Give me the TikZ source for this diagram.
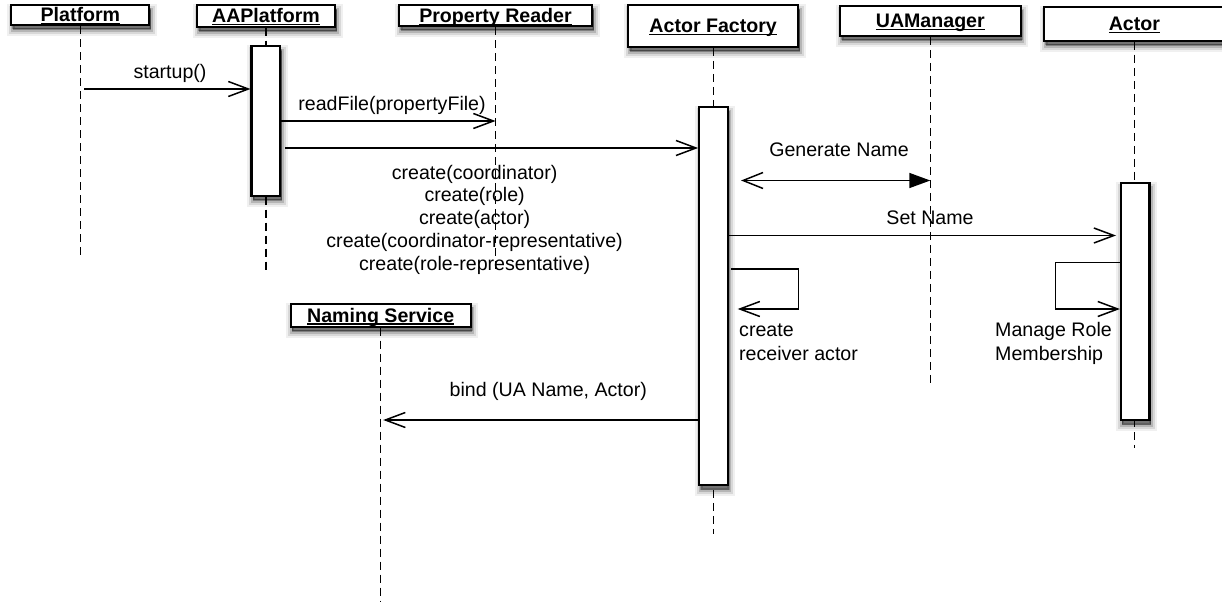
\documentclass[tikz,border=0pt]{standalone}
\usepackage{fontspec}
\setmainfont{Liberation Sans}
\usetikzlibrary{arrows.meta,shadows}

% underlined object name, rule crossing the descenders
\newcommand\ulabel[1]{\setbox0\hbox{#1}\rlap{\rule[-2.4pt]{\wd0}{1.3pt}}\box0}

\tikzset{
  softshadow/.style={
    general shadow={shadow xshift=1.5pt,shadow yshift=-5pt,fill=black,draw=black,line width=12pt,opacity=0.06},
    general shadow={shadow xshift=1.5pt,shadow yshift=-5pt,fill=black,draw=black,line width=8pt,opacity=0.10},
    general shadow={shadow xshift=1.5pt,shadow yshift=-5pt,fill=black,draw=black,line width=4pt,opacity=0.16},
    general shadow={shadow xshift=1.5pt,shadow yshift=-4pt,fill=black,draw=black,line width=1pt,opacity=0.25}},
  headbox/.style={draw=black,line width=2.1pt,fill=white,inner sep=0pt,softshadow,
    font=\bfseries\fontsize{19.6}{22}\selectfont,text height=15pt,text depth=1pt},
  actbox/.style={draw=black,line width=2.1pt,fill=white,inner sep=0pt,softshadow,minimum width=28.5pt},
  lifeline/.style={line width=1.4pt,dash pattern=on 8pt off 5pt},
  msg/.style={line width=1.5pt,-{Straight Barb[length=20pt,width=15pt]}},
  lbl/.style={font=\fontsize{19.6}{22.9}\selectfont,inner sep=0pt},
  sidelbl/.style={font=\fontsize{19.6}{24}\selectfont,inner sep=0pt,anchor=base west},
}

\begin{document}
\begin{tikzpicture}[x=1pt,y=-1pt]
\useasboundingbox (0,0) rectangle (1222,602);

% object heads
\node[headbox,minimum width=138pt,minimum height=20pt]   (pf)  at (80.4,15)    {\ulabel{Platform}};
\node[headbox,minimum width=138pt,minimum height=21.5pt] (aap) at (266,15.9)   {\ulabel{AAPlatform}};
\node[headbox,minimum width=193pt,minimum height=21pt]   (pr)  at (495.5,15.5) {\ulabel{Property Reader}};
\node[headbox,minimum width=170.4pt,minimum height=41.7pt] (af) at (713.2,25.9) {\ulabel{Actor Factory}};
\node[headbox,minimum width=180.6pt,minimum height=29.7pt] (uam) at (930.3,20.9) {\ulabel{UAManager}};
\node[headbox,minimum width=180.3pt,minimum height=34pt] (act) at (1134.4,23.7) {\ulabel{Actor}};
\node[headbox,minimum width=180pt,minimum height=22.7pt] (ns)  at (380.7,315.3) {\ulabel{Naming Service}};

% lifeline ends
\coordinate (pfEnd)  at (80.4,257);
\coordinate (aapEnd) at (266,274);
\coordinate (prEnd)  at (495.5,273);
\coordinate (afEnd)  at (713.2,534.3);
\coordinate (uamEnd) at (930.3,383.3);
\coordinate (actEnd) at (1134.4,448.3);
\coordinate (nsEnd)  at (380.7,602);

\draw[lifeline] (pf.south)  -- (pfEnd);
\draw[lifeline] (aap.south) -- (aapEnd);
\draw[lifeline] (pr.south)  -- (prEnd);
\draw[lifeline] (af.south)  -- (afEnd);
\draw[lifeline] (uam.south) -- (uamEnd);
\draw[lifeline] (act.south) -- (actEnd);
\draw[lifeline] (ns.south)  -- (nsEnd);

% activations
\node[actbox,minimum height=149.7pt] (aapA) at (265.75,120.85) {};
\node[actbox,minimum height=377.7pt] (afA)  at (713.4,296.15)  {};
\node[actbox,minimum height=237.3pt] (actA) at (1135.2,301.35) {};

% startup()
\coordinate (y1) at (84,89);
\draw[msg] (y1) -- (aapA.west |- y1);
\node[lbl,anchor=base] (t1) at (170,78) {startup()};

% readFile(propertyFile)
\coordinate (y2) at (0,121);
\draw[msg] (aapA.east |- y2) -- (pr.south |- y2);
\node[lbl,anchor=base] (t2) at (392,110) {readFile(propertyFile)};

% create(...)
\coordinate (y3) at (285,148);
\draw[msg] (y3) -- (afA.west |- y3);
\node[lbl,anchor=base] (t3) at (474.6,179) {\begin{tabular}[t]{@{}c@{}}
create(coordinator)\\
create(role)\\
create(actor)\\
create(coordinator-representative)\\
create(role-representative)\end{tabular}};

% Generate Name
\coordinate (y4) at (741,180.5);
\draw[line width=1.5pt,{Straight Barb[length=20pt,width=16pt]}-{Triangle[length=21pt,width=15pt]}]
  (y4) -- (uam.south |- y4);
\node[lbl,anchor=base] (t4) at (839,156.5) {Generate Name};

% Set Name
\coordinate (y5) at (1116,235.5);
\draw[msg] (afA.east |- y5) -- (y5);
\node[lbl,anchor=base] (t5) at (930,224) {Set Name};

% self call on Actor Factory
\coordinate (c1) at (731,269);
\coordinate (c2) at (798.3,309);
\coordinate (c3) at (737.7,309);
\draw[msg] (c1) -- (c1 -| c2) -- (c2) -- (c3);
\node[sidelbl] (t6) at (739,336.7) {\begin{tabular}[t]{@{}l@{}}create\\receiver actor\end{tabular}};

% self call on Actor
\coordinate (r1) at (0,262.3);
\coordinate (r2) at (1055.7,309);
\draw[msg] (actA.west |- r1) -- (r1 -| r2) -- (r2) -- (actA.west |- r2);
\node[sidelbl] (t7) at (995,336.7) {\begin{tabular}[t]{@{}l@{}}Manage Role\\Membership\end{tabular}};

% bind
\coordinate (y8) at (0,420);
\draw[msg,shorten >=2.5pt] (afA.west |- y8) -- (ns.south |- y8);
\node[lbl,anchor=base] (t8) at (548.3,396) {bind (UA Name, Actor)};
\end{tikzpicture}
\end{document}
